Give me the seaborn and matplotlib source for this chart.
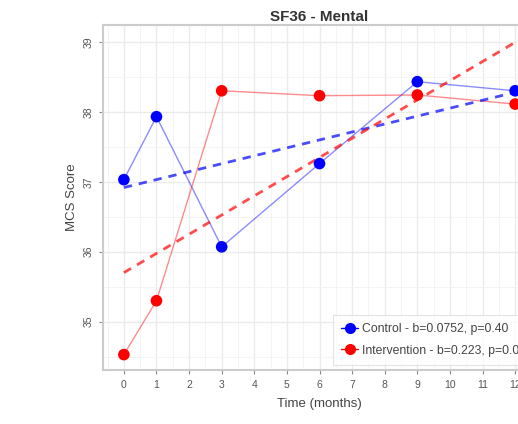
import numpy as np
import pandas as pd
import matplotlib
matplotlib.use('Agg')
import matplotlib.pyplot as plt
from matplotlib.lines import Line2D
from matplotlib.ticker import MultipleLocator
import seaborn as sns

# Data
months = [0, 1, 3, 6, 9, 12]
control_mcs = [37.03, 37.93, 36.07, 37.26, 38.43, 38.30]
intervention_mcs = [34.53, 35.30, 38.30, 38.23, 38.24, 38.11]
groups = ['Control', 'Intervention']
legend_labels = ['Control - b=0.0752, p=0.40', 'Intervention - b=0.223, p=0.01']
colors = {'Control': '#0000ff', 'Intervention': '#ff0000'}

df = pd.DataFrame({
    'time': months * 2,
    'mcs': control_mcs + intervention_mcs,
    'group': ['Control'] * len(months) + ['Intervention'] * len(months),
})

sns.set_theme(style='white')
plt.rcParams['font.family'] = ['Liberation Sans', 'DejaVu Sans']

fig = plt.figure(figsize=(5.18, 4.24), dpi=100)
ax = fig.add_axes([103 / 518, 54 / 424, 433 / 518, 345 / 424])

sns.lineplot(data=df, x='time', y='mcs', hue='group', palette=colors,
             alpha=0.45, linewidth=1.0, legend=False, ax=ax)
for g in groups:
    sub = df[df['group'] == g]
    sns.regplot(data=sub, x='time', y='mcs', scatter=False, ci=None,
                truncate=True, ax=ax,
                line_kws=dict(color=colors[g], linestyle=(0, (3, 2.5)),
                              linewidth=2.0, alpha=0.7))
sns.scatterplot(data=df, x='time', y='mcs', hue='group', palette=colors,
                s=70, edgecolor='none', legend=False, ax=ax, zorder=5)

ax.set_xlim(-0.64, 12.64)
ax.set_ylim(34.31, 39.24)
ax.xaxis.set_major_locator(MultipleLocator(1))
ax.xaxis.set_minor_locator(MultipleLocator(0.5))
ax.yaxis.set_major_locator(MultipleLocator(1))
ax.yaxis.set_minor_locator(MultipleLocator(0.5))
ax.set_axisbelow(True)
ax.grid(which='major', color='#ebebeb', linewidth=1.0)
ax.grid(which='minor', color='#f3f3f3', linewidth=0.6)
for s in ax.spines.values():
    s.set_color('#cccccc')
    s.set_linewidth(1.5)
ax.tick_params(which='major', direction='out', length=3, width=0.8,
               color='#888888', labelsize=7.5, labelcolor='#555555',
               bottom=True, left=True, pad=4)
ax.tick_params(which='minor', length=0)
for lab in ax.get_yticklabels():
    lab.set_rotation(90)
    lab.set_verticalalignment('center')

ax.set_title('SF36 - Mental', fontsize=11, fontweight='bold',
             color='#333333', pad=3)
ax.set_xlabel('Time (months)', fontsize=9.5, color='#444444', labelpad=6)
ax.set_ylabel('MCS Score', fontsize=9.5, color='#444444', labelpad=4)

handles = [Line2D([], [], color=colors[g], marker='o', markersize=7,
                  linewidth=1.0) for g in groups]
leg = ax.legend(handles, legend_labels, loc='upper left',
                bbox_to_anchor=((333 - 103) / 433, (370 - 315) / 345),
                fontsize=8.8, frameon=True, fancybox=False,
                handlelength=1.4, handletextpad=0.3, borderpad=0.65,
                labelspacing=0.8, borderaxespad=0)
leg.get_frame().set_edgecolor('#dddddd')
leg.get_frame().set_linewidth(0.8)
for t in leg.get_texts():
    t.set_color('#444444')

fig.savefig('out.png', dpi=100)
